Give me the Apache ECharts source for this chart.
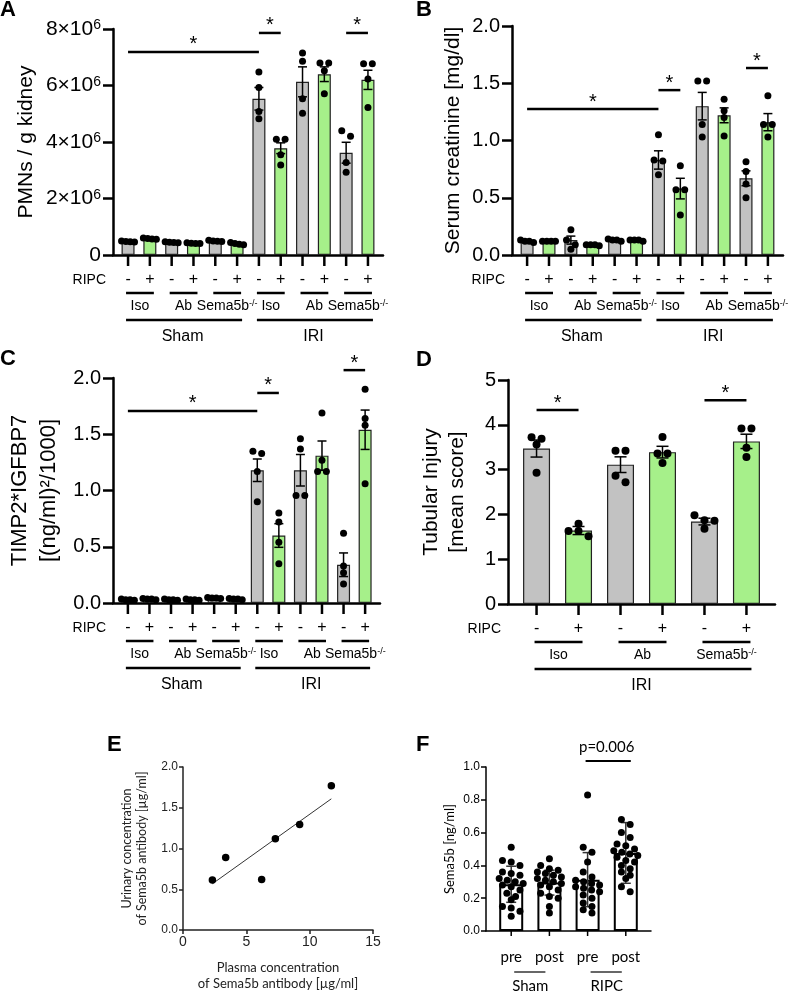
<!DOCTYPE html>
<html><head><meta charset="utf-8">
<script src="https://cdn.jsdelivr.net/npm/echarts@6/dist/echarts.min.js"></script>
<style>html,body{margin:0;padding:0;background:#fff}#c{width:794px;height:993px}</style>
</head><body><div id="c"></div>
<script>
// ================= DATA =================
// Panels A-C: 12 groups (Sham: Iso-,Iso+,Ab-,Ab+,Sema-,Sema+ ; IRI: same)
const ripcSigns = ['-','+','-','+','-','+','-','+','-','+','-','+'];
const agentNames = ['Iso','Ab','Sema5b'];
const agentSup = ['','','-/-'];
const surgeryNames = ['Sham','IRI'];

// A: PMNs / g kidney (in units of 10^6)
const meanA = [0.48,0.58,0.45,0.42,0.50,0.40,5.53,3.78,6.13,6.40,3.62,6.20];
const semA  = [0.02,0.02,0.02,0.02,0.02,0.03,0.40,0.19,0.53,0.26,0.37,0.34];
const dotsA = [[0.50,0.48,0.47,0.46],[0.60,0.58,0.57,0.56],[0.47,0.45,0.44,0.43],[0.43,0.42,0.41,0.41],
  [0.52,0.50,0.49,0.48],[0.44,0.41,0.38,0.36],[6.48,5.93,5.08,4.82],[4.10,4.10,3.55,3.19],
  [7.15,6.86,5.53,5.02],[6.80,6.80,6.52,5.71],[4.40,4.20,3.27,2.93],[6.77,6.77,6.23,5.22]];
const sigA = [[0,6,7.19,'*'],[6,7,7.86,'*'],[10,11,7.86,'*']];

// B: Serum creatinine [mg/dl]
const meanB = [0.12,0.12,0.13,0.09,0.13,0.13,0.83,0.58,1.30,1.22,0.67,1.16];
const semB  = [0.005,0.005,0.035,0.005,0.005,0.005,0.08,0.09,0.12,0.065,0.065,0.075];
const dotsB = [[0.13,0.12,0.12,0.11],[0.12,0.12,0.12,0.12],[0.22,0.13,0.09,0.05],[0.09,0.09,0.09,0.08],
  [0.14,0.13,0.13,0.12],[0.13,0.13,0.13,0.12],[1.05,0.83,0.82,0.70],[0.78,0.57,0.57,0.35],
  [1.52,1.52,1.14,1.03],[1.36,1.26,1.20,1.04],[0.815,0.73,0.62,0.50],[1.39,1.14,1.14,1.03]];
const sigB = [[0,6,1.275,'*'],[6,7,1.44,'*'],[10,11,1.633,'*']];

// C: TIMP2*IGFBP7
const meanC = [0.03,0.035,0.03,0.03,0.045,0.035,1.18,0.60,1.18,1.31,0.34,1.54];
const semC  = [0.003,0.003,0.003,0.003,0.003,0.003,0.10,0.105,0.14,0.13,0.105,0.175];
const dotsC = [[0.035,0.03,0.03,0.025],[0.04,0.035,0.035,0.03],[0.035,0.03,0.03,0.025],[0.035,0.03,0.03,0.025],
  [0.05,0.045,0.045,0.04],[0.04,0.035,0.035,0.03],[1.35,1.33,1.17,0.90],[0.80,0.72,0.54,0.35],
  [1.46,1.37,0.955,0.955],[1.69,1.27,1.17,1.17],[0.62,0.33,0.27,0.17],[1.90,1.64,1.58,1.06]];
const sigC = [[0,6,1.707,'*'],[6,7,1.867,'*'],[10,11,2.07,'*']];

// D: Tubular injury (IRI only)
const ripcSignsD = ['-','+','-','+','-','+'];
const meanD = [3.47,1.64,3.11,3.39,1.84,3.63];
const semD  = [0.19,0.09,0.175,0.13,0.075,0.16];
const dotsD = [[3.72,3.69,3.56,2.93],[1.79,1.63,1.63,1.51],[3.42,3.42,2.86,2.72],
  [3.73,3.36,3.36,3.15],[1.98,1.87,1.86,1.68],[3.92,3.92,3.49,3.28]];
const sigD = [[0,1,4.33,'*'],[4,5,4.55,'*']];

// E: plasma vs urinary Sema5b antibody
const plasmaE = [2.32,3.37,6.21,7.29,9.21,11.71];
const urineE  = [0.615,0.89,0.62,1.12,1.295,1.77];

// F: Sema5b [ng/ml]
const phaseF = ['pre','post','pre','post'];
const groupF = ['Sham','RIPC'];
const meanF = [0.285,0.295,0.313,0.476];
const sdF   = [0.110,0.076,0.165,0.185];
const dotsF = [
  [0.51,0.43,0.42,0.40,0.36,0.35,0.34,0.32,0.31,0.30,0.29,0.28,0.27,0.25,0.23,0.21,0.19,0.15,0.14,0.12,0.09],
  [0.44,0.40,0.38,0.37,0.36,0.35,0.34,0.33,0.32,0.31,0.30,0.29,0.28,0.27,0.25,0.23,0.21,0.20,0.15,0.11],
  [0.83,0.51,0.48,0.42,0.36,0.33,0.31,0.30,0.29,0.28,0.27,0.26,0.25,0.24,0.22,0.20,0.17,0.15,0.13,0.11],
  [0.68,0.65,0.60,0.57,0.53,0.52,0.50,0.49,0.48,0.47,0.46,0.45,0.43,0.42,0.40,0.38,0.36,0.34,0.32,0.27,0.24]];
const sigF = [[2,3,1.037,'p=0.006']];

// ================= STYLE / LAYOUT =================
const FONT = 'Liberation Sans', FONT2 = 'Lato';
const GRAY = '#c2c2c2', GREEN = '#a6f08a';
const grids=[], xAxes=[], yAxes=[], series=[];

function rowOffsets(vals, pxY, pxX, d, barW){
  // arrange dots in rows (GraphPad-like scatter), return x offsets in axis units
  const idx = vals.map((v,i)=>i).sort((a,b)=>vals[b]-vals[a]);
  const rows=[]; let cur=null;
  idx.forEach(i=>{
    if(!cur || (vals[cur[0]]-vals[i])*pxY >= d*0.85){ cur=[i]; rows.push(cur);} else cur.push(i);
  });
  const off = new Array(vals.length).fill(0);
  rows.forEach(r=>{
    const m=r.length; if(m<2) return;
    const sp = Math.min(d*1.25, barW/(m-1));
    r.forEach((i,j)=>{ off[i]=((j-(m-1)/2)*sp)/pxX; });
  });
  return off;
}

function errRender(capW, lw, color){
  return function(params, api){
    const x=api.value(0), lo=api.value(1), hi=api.value(2);
    const p1=api.coord([x,lo]), p2=api.coord([x,hi]);
    const st={stroke:color, lineWidth:lw};
    return {type:'group', children:[
      {type:'line', shape:{x1:p1[0],y1:p1[1],x2:p2[0],y2:p2[1]}, style:st},
      {type:'line', shape:{x1:p1[0]-capW/2,y1:p1[1],x2:p1[0]+capW/2,y2:p1[1]}, style:st},
      {type:'line', shape:{x1:p2[0]-capW/2,y1:p2[1],x2:p2[0]+capW/2,y2:p2[1]}, style:st}
    ]};
  };
}

function txt(x,y,text,size,opts){
  return {type:'text', x:x, y:y, style:Object.assign({text:text, fontSize:size, fontFamily:FONT, fill:'#000', align:'center', verticalAlign:'middle'}, opts||{})};
}

function barPanel(k, p){
  const n=p.means.length, xMin=-0.5-p.pad, xMax=n-0.5+p.pad;
  grids.push(Object.assign({containLabel:false}, p.grid));
  xAxes.push({gridIndex:k, type:'value', min:xMin, max:xMax,
    axisLine:{show:true, onZero:false, lineStyle:{color:'#000', width:p.axW}},
    axisTick:{show:false}, axisLabel:{show:false}, splitLine:{show:false}});
  yAxes.push({gridIndex:k, type:'value', min:0, max:p.yMax, interval:p.yInt,
    axisLine:{show:true, onZero:false, lineStyle:{color:'#000', width:p.axW}},
    axisTick:{show:true, length:p.tickLen, lineStyle:{color:'#000', width:p.axW}},
    axisLabel:{fontSize:p.labelSize, color:'#000', fontFamily:FONT, margin:p.labelMargin, formatter:p.fmt, rich:p.rich},
    splitLine:{show:false},
    name:p.yName, nameLocation:'middle', nameGap:p.nameGap,
    nameTextStyle:{fontSize:p.nameSize, color:'#000', fontFamily:p.nameFont||FONT, lineHeight:p.nameLH}});
  const pxY=p.grid.height/p.yMax, pxX=p.grid.width/(xMax-xMin);
  series.push({type:'bar', xAxisIndex:k, yAxisIndex:k, barWidth:p.barW, silent:true, z:2,
    data:p.means.map((v,i)=>({value:[i,v], itemStyle:{color:p.fill?p.fill:(i%2?GREEN:GRAY)}})),
    itemStyle:{borderColor:p.border, borderWidth:p.borderW}});
  series.push({type:'custom', xAxisIndex:k, yAxisIndex:k, silent:true, z:3,
    data:p.means.map((v,i)=>[i, v-p.errs[i], v+p.errs[i]]), renderItem:errRender(p.capW, p.errW, p.errColor||'#000')});
  const pts=[];
  p.dots.forEach((arr,i)=>{
    const off=rowOffsets(arr,pxY,pxX,p.dotSize,p.barW);
    arr.forEach((v,j)=>pts.push([i+off[j], v]));
  });
  series.push({type:'scatter', xAxisIndex:k, yAxisIndex:k, silent:true, z:4, symbolSize:p.dotSize,
    itemStyle:{color:'#000', opacity:1}, data:pts});
  series.push({type:'custom', xAxisIndex:k, yAxisIndex:k, silent:true, z:6, clip:false, data:[[0,0]],
    renderItem:function(params, api){
      const ch=[]; const base=api.coord([0,0])[1]; const cx=i=>api.coord([i,0])[0];
      const left=api.coord([xMin,0])[0];
      for(let i=0;i<n;i++) ch.push({type:'line', shape:{x1:cx(i),y1:base,x2:cx(i),y2:base+p.xTickLen}, style:{stroke:'#000', lineWidth:p.axW}});
      p.annot(ch, cx, base, left);
      p.sig.forEach(s=>{
        const a=api.coord([s[0],s[2]]), b=api.coord([s[1],s[2]]);
        ch.push({type:'line', shape:{x1:a[0]+p.sigPad[0],y1:a[1],x2:b[0]+p.sigPad[1],y2:b[1]}, style:{stroke:'#000', lineWidth:p.sigW}});
        if(s[3]==='*') ch.push(txt((a[0]+b[0])/2, a[1]-7, '*', 20));
        else ch.push(txt((a[0]+b[0])/2, a[1]-14, s[3], 15, {fontFamily:FONT2}));
      });
      return {type:'group', children:ch};
    }});
}

const agentRich = {a:{fontSize:14, fontFamily:FONT, fill:'#000'}, s:{fontSize:9, fontFamily:FONT, fill:'#000', verticalAlign:'top'}};
function agentText(j){ return agentSup[j] ? '{a|'+agentNames[j]+'}{s|'+agentSup[j]+'}' : '{a|'+agentNames[j]+'}'; }

function annotABC(signs, groups){
  return function(ch, cx, base, left){
    ch.push(txt(left-7, base+25, 'RIPC', 14, {align:'right'}));
    signs.forEach((s,i)=>ch.push(txt(cx(i), base+25, s, 16)));
    for(let j=0;j<signs.length/2;j++){
      const a=cx(2*j), b=cx(2*j+1);
      ch.push({type:'line', shape:{x1:a-2,y1:base+38,x2:b+4,y2:base+38}, style:{stroke:'#000', lineWidth:2.5}});
      ch.push({type:'text', x:(a+b)/2+1, y:base+51, style:{text:agentText(j%3), rich:agentRich, align:'center', verticalAlign:'middle', fontSize:14, fontFamily:FONT}});
    }
    groups.forEach(g=>{
      const a=cx(g[1]), b=cx(g[2]);
      ch.push({type:'line', shape:{x1:a-2,y1:base+65,x2:b+5,y2:base+65}, style:{stroke:'#000', lineWidth:2.5}});
      ch.push(txt((a+b)/2, base+82, g[0], 16));
    });
  };
}

const fmtA = v => v===0 ? '0' : '{a|'+v+'×10}{s|6}';
const richA = {a:{fontSize:21, fontFamily:FONT, color:'#000'}, s:{fontSize:14, fontFamily:FONT, color:'#000', verticalAlign:'top'}};
const commonABC = {pad:0.19, axW:2.5, tickLen:10, labelSize:20, labelMargin:12, nameSize:21, barW:13, border:'#222', borderW:1.2,
  capW:9, errW:1.5, dotSize:7, xTickLen:11, sigW:2.5, sigPad:[0,0]};
const grpABC = [[surgeryNames[0],0,5],[surgeryNames[1],6,11]];

barPanel(0, Object.assign({}, commonABC, {grid:{left:113, top:29, width:270, height:226}, yMax:8, yInt:2, fmt:fmtA, rich:richA, labelSize:21,
  yName:'PMNs / g kidney', nameGap:76, means:meanA, errs:semA, dots:dotsA, sig:sigA, annot:annotABC(ripcSigns, grpABC)}));
barPanel(1, Object.assign({}, commonABC, {grid:{left:512, top:26, width:271, height:229}, yMax:2, yInt:0.5, fmt:v=>v.toFixed(1),
  yName:'Serum creatinine [mg/dl]', nameGap:48, means:meanB, errs:semB, dots:dotsB, sig:sigB, annot:annotABC(ripcSigns, grpABC)}));
barPanel(2, Object.assign({}, commonABC, {grid:{left:113, top:378, width:267, height:225}, yMax:2, yInt:0.5, fmt:v=>v.toFixed(1),
  yName:'TIMP2*IGFBP7\n[(ng/ml)²/1000]', nameGap:50, nameLH:29, nameSize:22, means:meanC, errs:semC, dots:dotsC, sig:sigC, annot:annotABC(ripcSigns, grpABC)}));
barPanel(3, Object.assign({}, commonABC, {grid:{left:508, top:380, width:267, height:224}, pad:0.18, yMax:5, yInt:1, fmt:v=>String(v),
  yName:'Tubular Injury\n[mean score]', nameGap:38, nameLH:26, barW:27, capW:12, dotSize:8,
  means:meanD, errs:semD, dots:dotsD, sig:sigD, annot:annotABC(ripcSignsD, [[surgeryNames[1],0,5]])}));

// ---- E: scatter with regression ----
grids.push({left:183, top:767, width:190, height:163});
xAxes.push({gridIndex:4, type:'value', min:0, max:15, interval:5,
  axisLine:{onZero:false, lineStyle:{color:'#222', width:1.5}}, axisTick:{length:4, lineStyle:{color:'#222', width:1.5}},
  axisLabel:{fontSize:14, color:'#222', fontFamily:FONT, margin:5}, splitLine:{show:false},
  name:'Plasma concentration\nof Sema5b antibody [µg/ml]', nameLocation:'middle', nameGap:30,
  nameTextStyle:{fontSize:13, lineHeight:16, color:'#222', fontFamily:FONT2}});
yAxes.push({gridIndex:4, type:'value', min:0, max:2, interval:0.5,
  axisLine:{onZero:false, lineStyle:{color:'#222', width:1.5}}, axisTick:{length:4, lineStyle:{color:'#222', width:1.5}},
  axisLabel:{fontSize:12, color:'#222', fontFamily:FONT, margin:5, formatter:v=>v.toFixed(1)}, splitLine:{show:false},
  name:'Urinary concentration\nof Sema5b antibody [µg/ml]', nameLocation:'middle', nameGap:34,
  nameTextStyle:{fontSize:12.5, lineHeight:15, color:'#222', fontFamily:FONT2}});
(function(){
  const n=plasmaE.length, mx=plasmaE.reduce((a,b)=>a+b)/n, my=urineE.reduce((a,b)=>a+b)/n;
  let sxy=0, sxx=0; for(let i=0;i<n;i++){ sxy+=(plasmaE[i]-mx)*(urineE[i]-my); sxx+=(plasmaE[i]-mx)**2; }
  const b=sxy/sxx, a=my-b*mx, x0=Math.min(...plasmaE), x1=Math.max(...plasmaE);
  series.push({type:'line', xAxisIndex:4, yAxisIndex:4, silent:true, showSymbol:false, z:2,
    lineStyle:{color:'#333', width:1}, data:[[x0,a+b*x0],[x1,a+b*x1]]});
  series.push({type:'scatter', xAxisIndex:4, yAxisIndex:4, silent:true, symbolSize:7.5, z:3,
    itemStyle:{color:'#000', opacity:1}, data:plasmaE.map((x,i)=>[x,urineE[i]])});
})();

// ---- F ----
barPanel(5, {grid:{left:486, top:767, width:165, height:164}, pad:0.16, axW:1.5, tickLen:5, labelSize:12, labelMargin:6,
  yMax:1, yInt:0.2, fmt:v=>v.toFixed(1), yName:'Sema5b [ng/ml]', nameGap:30, nameSize:13, nameFont:FONT2,
  barW:24, fill:'#fff', border:'#000', borderW:2, capW:10, errW:1.5, errColor:'#333', dotSize:7, xTickLen:5, sigW:2, sigPad:[-2,5],
  means:meanF, errs:sdF, dots:dotsF, sig:sigF,
  annot:function(ch, cx, base){
    phaseF.forEach((s,i)=>ch.push(txt(cx(i), base+26, s, 15, {fontFamily:FONT2})));
    groupF.forEach((g,j)=>{
      const a=cx(2*j), b=cx(2*j+1);
      ch.push({type:'line', shape:{x1:a+3,y1:base+41,x2:b-4,y2:base+41}, style:{stroke:'#000', lineWidth:1.2}});
      ch.push(txt((a+b)/2, base+55, g, 15, {fontFamily:FONT2}));
    });
  }});

// ---- panel letters ----
const letters = [['A',0,-1],['B',416,-1],['C',0,348],['D',416,349],['E',107,734],['F',416,734]];
const graphic = letters.map(l=>({type:'text', left:l[1], top:l[2], style:{text:l[0], fontSize:22, fontWeight:'bold', fontFamily:FONT, fill:'#000'}}));

const chart = echarts.init(document.getElementById('c'), null, {renderer:'canvas'});
chart.setOption({animation:false, backgroundColor:'#fff', textStyle:{fontFamily:FONT},
  grid:grids, xAxis:xAxes, yAxis:yAxes, series:series, graphic:graphic});
</script></body></html>
